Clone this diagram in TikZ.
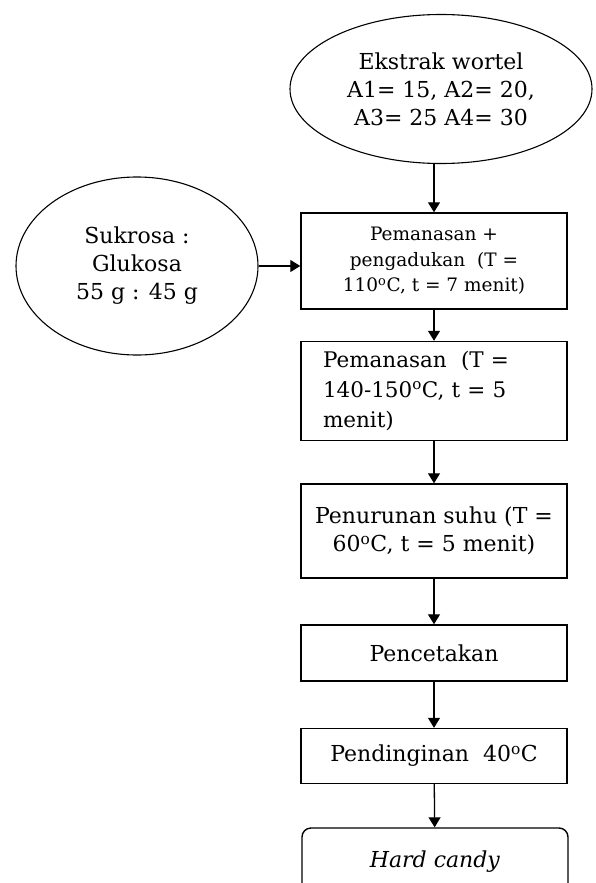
\documentclass[tikz,border=0pt]{standalone}
\usepackage{fontspec}
\setmainfont{DejaVu Serif}
\usetikzlibrary{shapes.geometric,arrows.meta}
\newcommand{\degc}{\textsuperscript{o}C}

\begin{document}
\begin{tikzpicture}[x=1pt, y=-1pt,
        every node/.style={draw, line width=1.4pt, inner sep=0pt, align=center},
        bahan/.style={ellipse, line width=1.1pt, font=\fontsize{22}{28}\selectfont},
        proses/.style={rectangle, minimum width=266pt, font=\fontsize{22}{28}\selectfont},
        arr/.style={-{Triangle[length=10pt, width=12pt]}, line width=1.3pt}]
        \clip (0, 0) rectangle (595, 883);
        \node[bahan, minimum width=302pt, minimum height=149pt] (ekstrak) at (441, 89) {Ekstrak wortel\\A1= 15, A2= 20,\\A3= 25 A4= 30};
        \node[bahan, minimum width=242pt, minimum height=178pt] (sukrosa) at (137, 266) {Sukrosa :\\Glukosa\\55 g : 45 g};
        \node[proses, minimum height=96pt, font=\fontsize{18.5}{25.5}\selectfont] (panas1) at (434, 261) {Pemanasan +\\pengadukan \ (T =\\110\degc, t = 7 menit)};
        \node[proses, minimum height=99pt, text width=222pt, align=left, font=\fontsize{21.5}{30}\selectfont] (panas2) at (434, 391) {Pemanasan \ (T =\\140-150\degc, t = 5\\menit)};
        \node[proses, minimum height=94pt] (suhu) at (434, 531) {Penurunan suhu (T =\\60\degc, t = 5 menit)};
        \node[proses, minimum height=56pt] (cetak) at (434, 653) {Pencetakan};
        \node[proses, minimum height=55pt] (dingin) at (434, 756) {Pendinginan \ 40\degc};
        \node[proses, rounded corners=9pt, minimum height=68pt] (candy) at (435, 862) {\textit{Hard candy}};
        \draw[arr] (ekstrak.south -| panas1.north) -- (panas1.north);
        \draw[arr] (sukrosa.east) -- (sukrosa.east -| panas1.west);
        \draw[arr] (panas1) -- (panas2);
        \draw[arr] (panas2) -- (suhu);
        \draw[arr] (suhu) -- (cetak);
        \draw[arr] (cetak) -- (dingin);
        \draw[arr] (dingin) -- (candy);
    \end{tikzpicture}
\end{document}
